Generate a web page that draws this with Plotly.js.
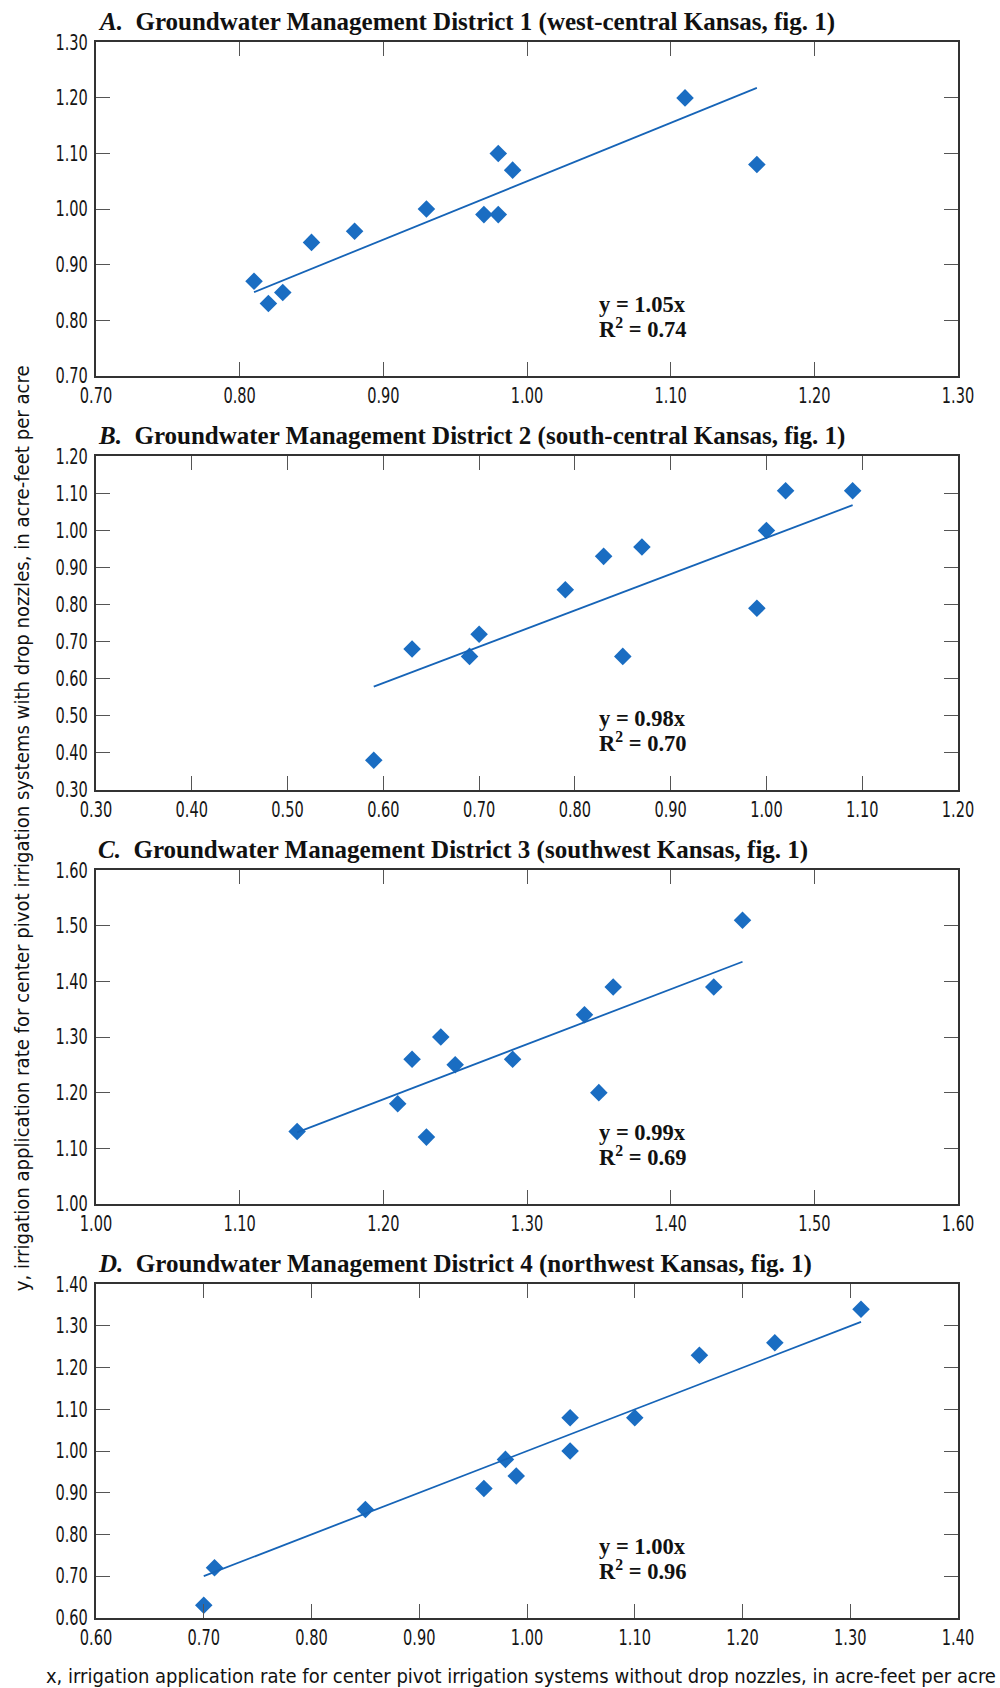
<!DOCTYPE html>
<html>
<head>
<meta charset="utf-8">
<script src="https://cdn.plot.ly/plotly-3.0.1.min.js"></script>
<style>
  html, body { margin: 0; padding: 0; background: #fff; }
  #chart { width: 1000px; height: 1688px; }
</style>
</head>
<body>
<div id="chart"></div>
<script>
// ---- Data ----
const panelLetters = ["A.", "B.", "C.", "D."];
const panelTitles = [
  "Groundwater Management District 1 (west-central Kansas, fig. 1)",
  "Groundwater Management District 2 (south-central Kansas, fig. 1)",
  "Groundwater Management District 3 (southwest Kansas, fig. 1)",
  "Groundwater Management District 4 (northwest Kansas, fig. 1)"
];

const xA = [0.81, 0.82, 0.83, 0.85, 0.88, 0.93, 0.97, 0.98, 0.98, 0.99, 1.11, 1.16];
const yA = [0.87, 0.83, 0.85, 0.94, 0.96, 1.00, 0.99, 0.99, 1.10, 1.07, 1.20, 1.08];

const xB = [0.59, 0.63, 0.69, 0.70, 0.79, 0.83, 0.85, 0.87, 0.99, 1.00, 1.02, 1.09];
const yB = [0.38, 0.68, 0.66, 0.72, 0.84, 0.93, 0.66, 0.955, 0.79, 1.00, 1.107, 1.107];

const xC = [1.14, 1.21, 1.22, 1.23, 1.24, 1.25, 1.29, 1.34, 1.35, 1.36, 1.43, 1.45];
const yC = [1.13, 1.18, 1.26, 1.12, 1.30, 1.25, 1.26, 1.34, 1.20, 1.39, 1.39, 1.51];

const xD = [0.70, 0.71, 0.85, 0.96, 0.98, 0.99, 1.04, 1.04, 1.10, 1.16, 1.23, 1.31];
const yD = [0.63, 0.72, 0.86, 0.91, 0.98, 0.94, 1.08, 1.00, 1.08, 1.23, 1.26, 1.34];

const slopes = [1.05, 0.98, 0.99, 1.00];
const rSquared = ["0.74", "0.70", "0.69", "0.96"];

const xRanges = [[0.70, 1.30], [0.30, 1.20], [1.00, 1.60], [0.60, 1.40]];
const yRanges = [[0.70, 1.30], [0.30, 1.20], [1.00, 1.60], [0.60, 1.40]];

const xTitle = "x, irrigation application rate for center pivot irrigation systems without drop nozzles, in acre-feet per acre";
const yTitle = "y, irrigation application rate for center pivot irrigation systems with drop nozzles, in acre-feet per acre";

// ---- Styling ----
const W = 1000, H = 1688;
const fontNarrow = "'Liberation Sans Narrow', 'Arial Narrow', 'DejaVu Sans Condensed', sans-serif";
const fontSerif = "'Liberation Serif', 'Times New Roman', serif";
const markerColor = "#1a6dc2";
const lineColor = "#1664b7";

const frameLeft = 96, frameRight = 958;
const firstTop = 42.3, period = 414, frameH = 333.5;

const xs = [xA, xB, xC, xD];
const ys = [yA, yB, yC, yD];

const traces = [];
const layout = {
  width: W, height: H,
  margin: {l: 0, r: 0, t: 0, b: 0},
  paper_bgcolor: "#fff",
  plot_bgcolor: "#fff",
  showlegend: false,
  annotations: []
};

function px2fy(p) { return 1 - p / H; }
function px2fx(p) { return p / W; }

for (let i = 0; i < 4; i++) {
  const n = i === 0 ? "" : String(i + 1);
  const xa = "x" + n, ya = "y" + n;
  const top = firstTop + period * i;
  const bottom = top + frameH;

  const axisCommon = {
    dtick: 0.1,
    tickformat: ".2f",
    ticks: "inside",
    ticklen: 14,
    tickwidth: 1,
    tickcolor: "#555",
    showline: true,
    linewidth: 2,
    linecolor: "#333",
    mirror: "ticks",
    showgrid: false,
    zeroline: false,
    fixedrange: true,
    tickfont: {family: fontNarrow, size: 21, color: "#151515"}
  };

  layout["xaxis" + n] = Object.assign({}, axisCommon, {
    domain: [px2fx(frameLeft), px2fx(frameRight)],
    range: [xRanges[i][0] - 1e-6, xRanges[i][1] + 1e-6],
    tick0: xRanges[i][0],
    anchor: ya,
    ticklabelstandoff: 0
  });
  layout["yaxis" + n] = Object.assign({}, axisCommon, {
    domain: [px2fy(bottom), px2fy(top)],
    range: [yRanges[i][0] - 1e-6, yRanges[i][1] + 1e-6],
    tick0: yRanges[i][0],
    anchor: xa,
    ticklabelstandoff: 2
  });

  // points
  traces.push({
    type: "scatter", mode: "markers",
    x: xs[i], y: ys[i], xaxis: xa, yaxis: ya,
    marker: {symbol: "diamond", size: 13.5, color: markerColor, line: {width: 0}},
    hoverinfo: "x+y"
  });

  // fitted line y = slope * x across the data range
  const xmin = Math.min(...xs[i]), xmax = Math.max(...xs[i]);
  traces.push({
    type: "scatter", mode: "lines",
    x: [xmin, xmax], y: [slopes[i] * xmin, slopes[i] * xmax],
    xaxis: xa, yaxis: ya,
    line: {color: lineColor, width: 1.8},
    hoverinfo: "skip"
  });

  // panel title
  layout.annotations.push({
    xref: "paper", yref: "paper",
    x: px2fx(frameLeft), y: px2fy(top - 4),
    xanchor: "left", yanchor: "bottom",
    showarrow: false,
    text: "<b><i>" + panelLetters[i] + "</i>&nbsp; " + panelTitles[i] + "</b>",
    font: {family: fontSerif, size: 25, color: "#111"}
  });

  // equation text
  layout.annotations.push({
    xref: xa + " domain", yref: ya + " domain",
    x: 0.581, y: 1 - 262 / frameH,
    xanchor: "left", yanchor: "middle",
    showarrow: false,
    text: "<b>y = " + slopes[i].toFixed(2) + "x</b>",
    font: {family: fontSerif, size: 22.5, color: "#111"}
  });
  layout.annotations.push({
    xref: xa + " domain", yref: ya + " domain",
    x: 0.581, y: 1 - 286 / frameH,
    xanchor: "left", yanchor: "middle",
    showarrow: false,
    text: "<b>R<sup>2</sup> = " + rSquared[i] + "</b>",
    font: {family: fontSerif, size: 22.5, color: "#111"}
  });
}

// shared axis titles
layout.annotations.push({
  xref: "paper", yref: "paper",
  x: px2fx(521), y: px2fy(1676),
  xanchor: "center", yanchor: "middle",
  showarrow: false,
  text: xTitle,
  font: {family: fontNarrow, size: 20, color: "#111"}
});
layout.annotations.push({
  xref: "paper", yref: "paper",
  x: px2fx(21.5), y: px2fy(829),
  xanchor: "center", yanchor: "middle",
  textangle: -90,
  showarrow: false,
  text: yTitle,
  font: {family: fontNarrow, size: 20, color: "#111"}
});

// condensed look: squeeze the sans-serif texts horizontally (the reference uses a condensed face)
function condense() {
  const root = document.getElementById("chart");
  root.querySelectorAll("g.xaxislayer-above text, g.yaxislayer-above text").forEach(function (t) {
    const w = t.getComputedTextLength();
    if (w > 0) {
      t.setAttribute("textLength", (w * 0.77).toFixed(2));
      t.setAttribute("lengthAdjust", "spacingAndGlyphs");
    }
  });
  root.querySelectorAll(".annotation-text").forEach(function (t) {
    const s = t.textContent;
    if (s === xTitle) {
      t.setAttribute("textLength", "950");
      t.setAttribute("lengthAdjust", "spacingAndGlyphs");
    } else if (s === yTitle) {
      t.setAttribute("textLength", "926");
      t.setAttribute("lengthAdjust", "spacingAndGlyphs");
    }
  });
}

Plotly.newPlot("chart", traces, layout, {staticPlot: true, displayModeBar: false}).then(condense);
</script>
</body>
</html>
